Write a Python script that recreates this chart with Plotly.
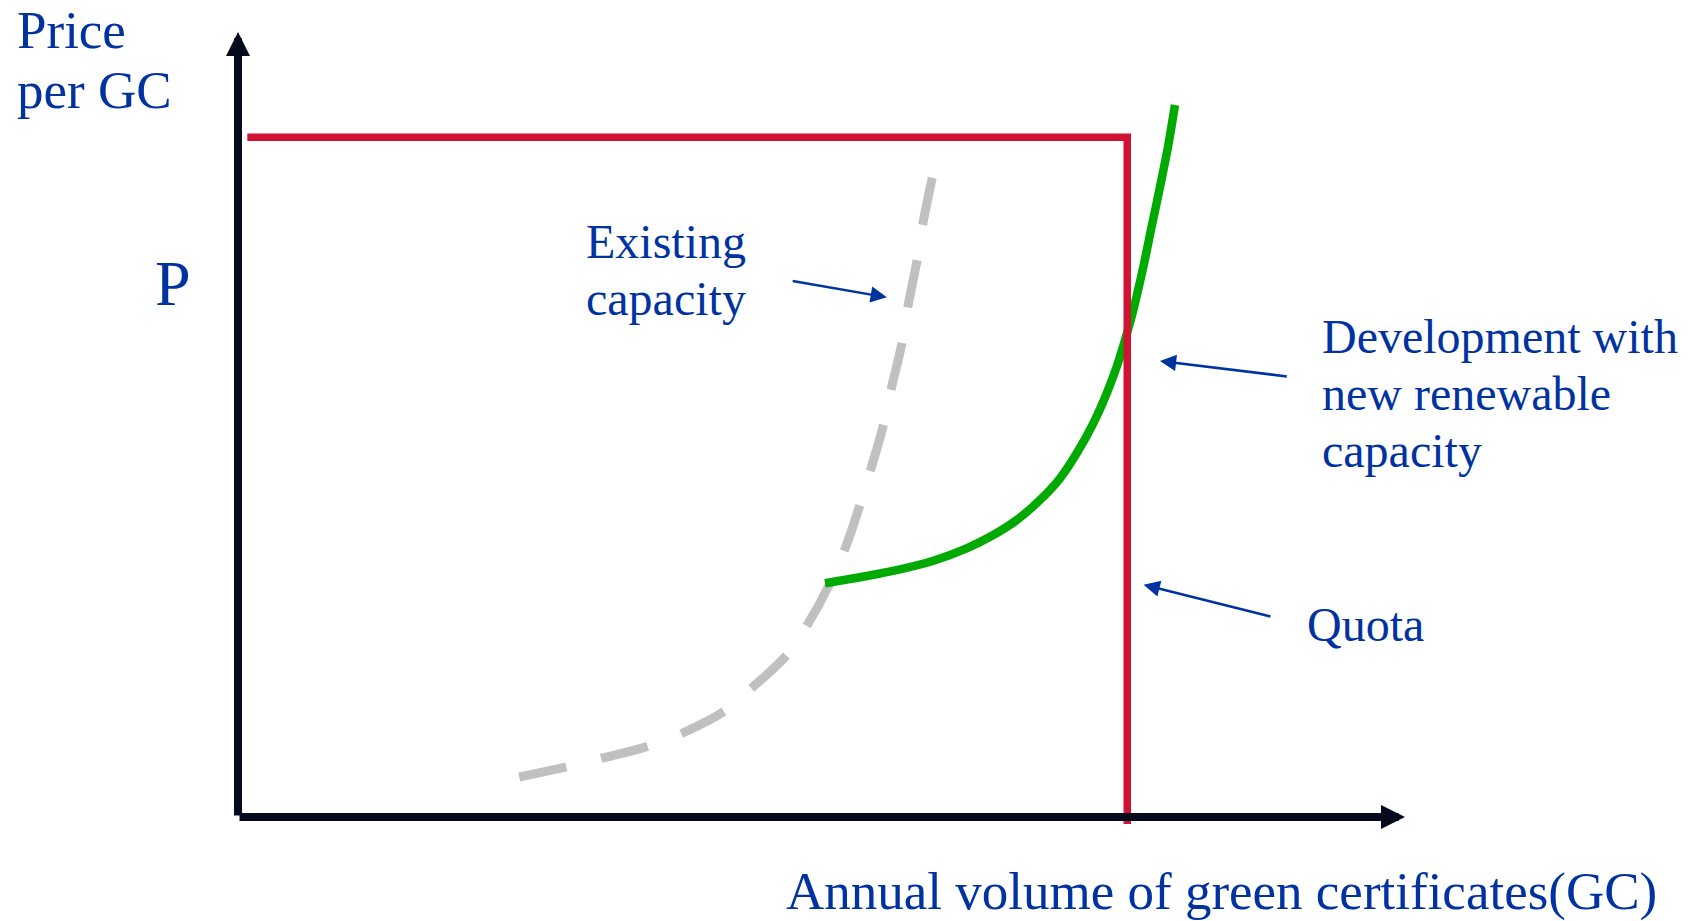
import plotly.graph_objects as go

# ---- data (conceptual units: x = annual volume of GC, y = price per GC) ----
existing_x = [24.1, 28.2, 31.2, 35.1, 38.1, 41.7, 44.0, 47.0, 48.8, 50.7, 52.2, 53.3,
              54.2, 55.3, 56.0, 56.9, 57.4, 58.2, 58.7, 59.5]
existing_y = [5.1, 6.4, 7.5, 9.0, 10.7, 13.5, 16.4, 20.6, 24.5, 29.7, 34.9, 39.8,
              44.2, 49.9, 54.7, 60.4, 65.0, 71.0, 75.7, 81.5]

new_x = [50.30, 53.87, 56.73, 59.58, 62.44, 64.72, 66.73, 68.72, 70.44, 71.87,
         73.29, 74.44, 75.30, 76.01, 76.72, 77.58, 78.29, 79.01, 79.72, 80.29]
new_y = [29.77, 30.70, 31.55, 32.65, 34.23, 35.92, 37.83, 40.38, 43.15, 46.33,
         50.15, 53.97, 57.36, 60.76, 64.59, 70.10, 75.20, 80.29, 85.61, 90.70]

quota_x = 76.2          # quota volume
price_p = 86.6          # certificate price P
quota_x_start = 0.8
quota_y_bottom = -0.9

axis_max_x = 100
axis_max_y = 100

TEXT = "#0033A0"
FONT = "Liberation Serif, Times New Roman, serif"

fig = go.Figure()

# Existing capacity (dashed grey)
fig.add_trace(go.Scatter(x=existing_x, y=existing_y, mode="lines",
                         line=dict(color="#C0C0C0", width=9, dash="48px,36px", shape="spline"),
                         hoverinfo="skip", showlegend=False))
# Development with new renewable capacity (green)
fig.add_trace(go.Scatter(x=new_x, y=new_y, mode="lines",
                         line=dict(color="#00AA00", width=8.5, shape="spline", smoothing=0.8),
                         hoverinfo="skip", showlegend=False))
# Quota / price (red)
fig.add_trace(go.Scatter(x=[quota_x_start, quota_x, quota_x], y=[price_p, price_p, quota_y_bottom],
                         mode="lines", line=dict(color="#D01235", width=7.5),
                         hoverinfo="skip", showlegend=False))

# Axes as arrows
for (tx, ty) in [(0, axis_max_y), (axis_max_x, 0)]:
    fig.add_annotation(x=tx, y=ty, ax=0, ay=0, xref="x", yref="y", axref="x", ayref="y",
                       showarrow=True, arrowhead=2, arrowsize=0.6, arrowwidth=8,
                       arrowcolor="#050B1C", text="")

# Pointer arrows
pointers = [((47.4, 68.3), (55.6, 66.2)),
            ((90.0, 56.1), (79.0, 58.1)),
            ((88.6, 25.5), (77.6, 29.6))]
for (t, h) in pointers:
    fig.add_annotation(x=h[0], y=h[1], ax=t[0], ay=t[1], xref="x", yref="y", axref="x", ayref="y",
                       showarrow=True, arrowhead=2, arrowsize=1.3, arrowwidth=2.5,
                       arrowcolor="#0033A0", text="")

labels = [
    ("Price", -18.9, 100.2, 53),
    ("per GC", -18.9, 92.6, 53),
    ("P", -7.1, 68.0, 64),
    ("Existing", 29.8, 73.36, 48),
    ("capacity", 29.8, 66.10, 48),
    ("Development with", 92.9, 61.17, 48),
    ("new renewable", 92.9, 53.91, 48),
    ("capacity", 92.9, 46.65, 48),
    ("Quota", 91.6, 24.57, 48),
    ("Annual volume of green certificates(GC)", 47.0, -9.53, 53),
]
for (txt, lx, ly, fs) in labels:
    fig.add_annotation(x=lx, y=ly, xref="x", yref="y", text=txt, showarrow=False,
                       xanchor="left", yanchor="middle", borderpad=0, borderwidth=0,
                       font=dict(family=FONT, size=fs, color=TEXT))

fig.update_layout(
    width=1692, height=921,
    margin=dict(l=0, r=0, t=0, b=0),
    paper_bgcolor="white", plot_bgcolor="white",
    xaxis=dict(range=[-20.394, 124.593], visible=False, fixedrange=True),
    yaxis=dict(range=[-13.248, 104.076], visible=False, fixedrange=True),
    showlegend=False,
)

fig.write_html("out.html", config={"displayModeBar": False},
               post_script="document.body.style.margin='0px';document.body.style.overflow='hidden';")
